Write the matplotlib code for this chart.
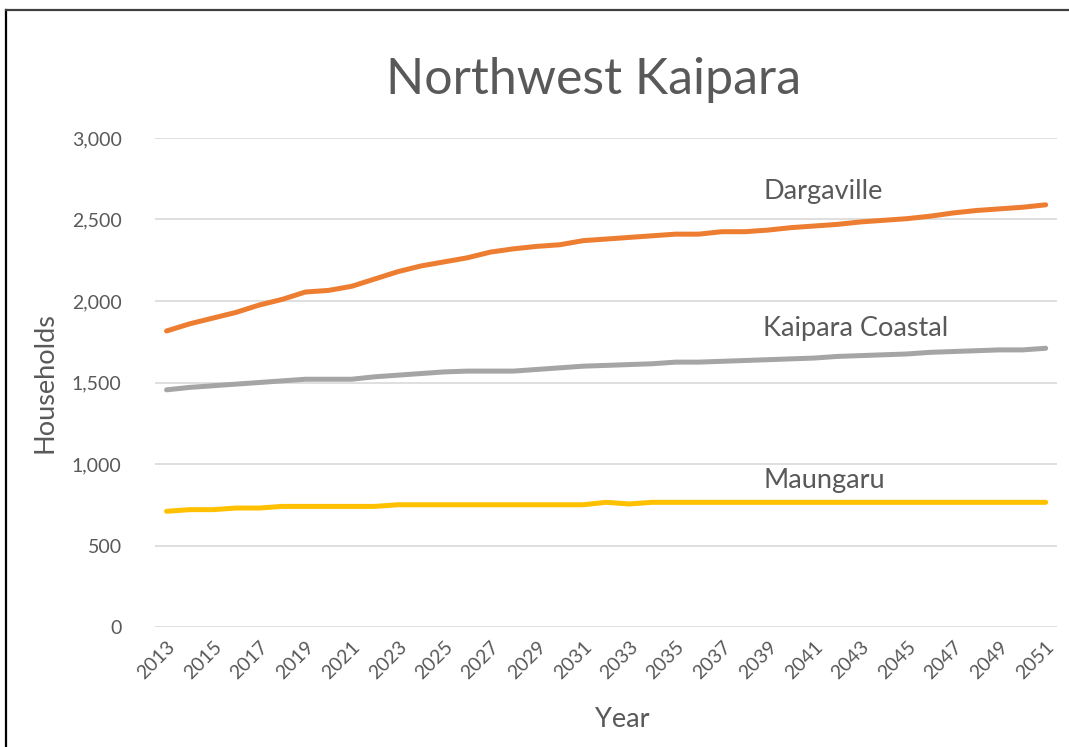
import matplotlib
matplotlib.use("Agg")
import matplotlib.pyplot as plt
from matplotlib.lines import Line2D

plt.rcParams["font.family"] = ["Lato", "DejaVu Sans"]

years = list(range(2013, 2052))
dargaville = [1816, 1860, 1895, 1930, 1975, 2010, 2055, 2065, 2090, 2135,
              2180, 2215, 2240, 2265, 2300, 2320, 2335, 2345, 2370, 2380,
              2390, 2400, 2410, 2410, 2425, 2425, 2435, 2450, 2460, 2470,
              2485, 2495, 2505, 2520, 2540, 2555, 2565, 2575, 2590]
kaipara_coastal = [1455, 1470, 1480, 1490, 1500, 1510, 1520, 1520, 1520, 1535,
                   1545, 1555, 1565, 1570, 1570, 1570, 1580, 1590, 1600, 1605,
                   1610, 1615, 1625, 1625, 1630, 1635, 1640, 1645, 1650, 1660,
                   1665, 1670, 1675, 1685, 1690, 1695, 1700, 1700, 1710]
maungaru = [710, 720, 720, 730, 730, 740, 740, 740, 740, 740,
            750, 750, 750, 750, 750, 750, 750, 750, 750, 765,
            755, 765, 765, 765, 765, 765, 765, 765, 765, 765,
            765, 765, 765, 765, 765, 765, 765, 765, 765]

series = [("Dargaville", dargaville, "#ED7D31", 2669),
          ("Kaipara Coastal", kaipara_coastal, "#A5A5A5", 1834),
          ("Maungaru", maungaru, "#FFC000", 896)]

txt = "#595959"

fig = plt.figure(figsize=(10.69, 7.47), dpi=100)
ax = fig.add_axes([0.145, 0.1606, 0.844, 0.6547])

for name, vals, col, ly in series:
    ax.plot(years, vals, color=col, lw=3.6, solid_capstyle="round")
    ax.text(2038.8, ly, name, color=txt, fontsize=19.5, va="center", ha="left")

ax.set_xlim(2012.5, 2051.5)
ax.set_ylim(0, 3000)
ax.set_yticks(range(0, 3001, 500))
ax.set_yticklabels([f"{v:,}" for v in range(0, 3001, 500)])
ax.set_xticks(years[::2])
ax.set_xticklabels([str(y) for y in years[::2]], rotation=45,
                   ha="right", va="top", rotation_mode="anchor")
ax.tick_params(axis="both", length=0, labelsize=14, colors=txt)
ax.tick_params(axis="y", pad=24)
ax.tick_params(axis="x", pad=8)
ax.grid(axis="y", color="#D9D9D9", lw=1.2)
ax.set_axisbelow(True)
for s in ax.spines.values():
    s.set_visible(False)

ax.set_xlabel("Year", fontsize=19.5, color=txt)
ax.xaxis.set_label_coords(0.518, -0.163)
ax.set_ylabel("Households", fontsize=19.5, color=txt, labelpad=10)
fig.text(0.555, 0.893, "Northwest Kaipara", fontsize=36, color=txt,
         ha="center", va="center")

# chart frame (left and top edges visible)
fig.add_artist(Line2D([0.0060, 0.0060], [0.0, 0.987], color="black", lw=1.6,
                      transform=fig.transFigure))
fig.add_artist(Line2D([0.0060, 1.0], [0.987, 0.987], color="#404040", lw=1.6,
                      transform=fig.transFigure))

fig.savefig("out.png", dpi=100)
